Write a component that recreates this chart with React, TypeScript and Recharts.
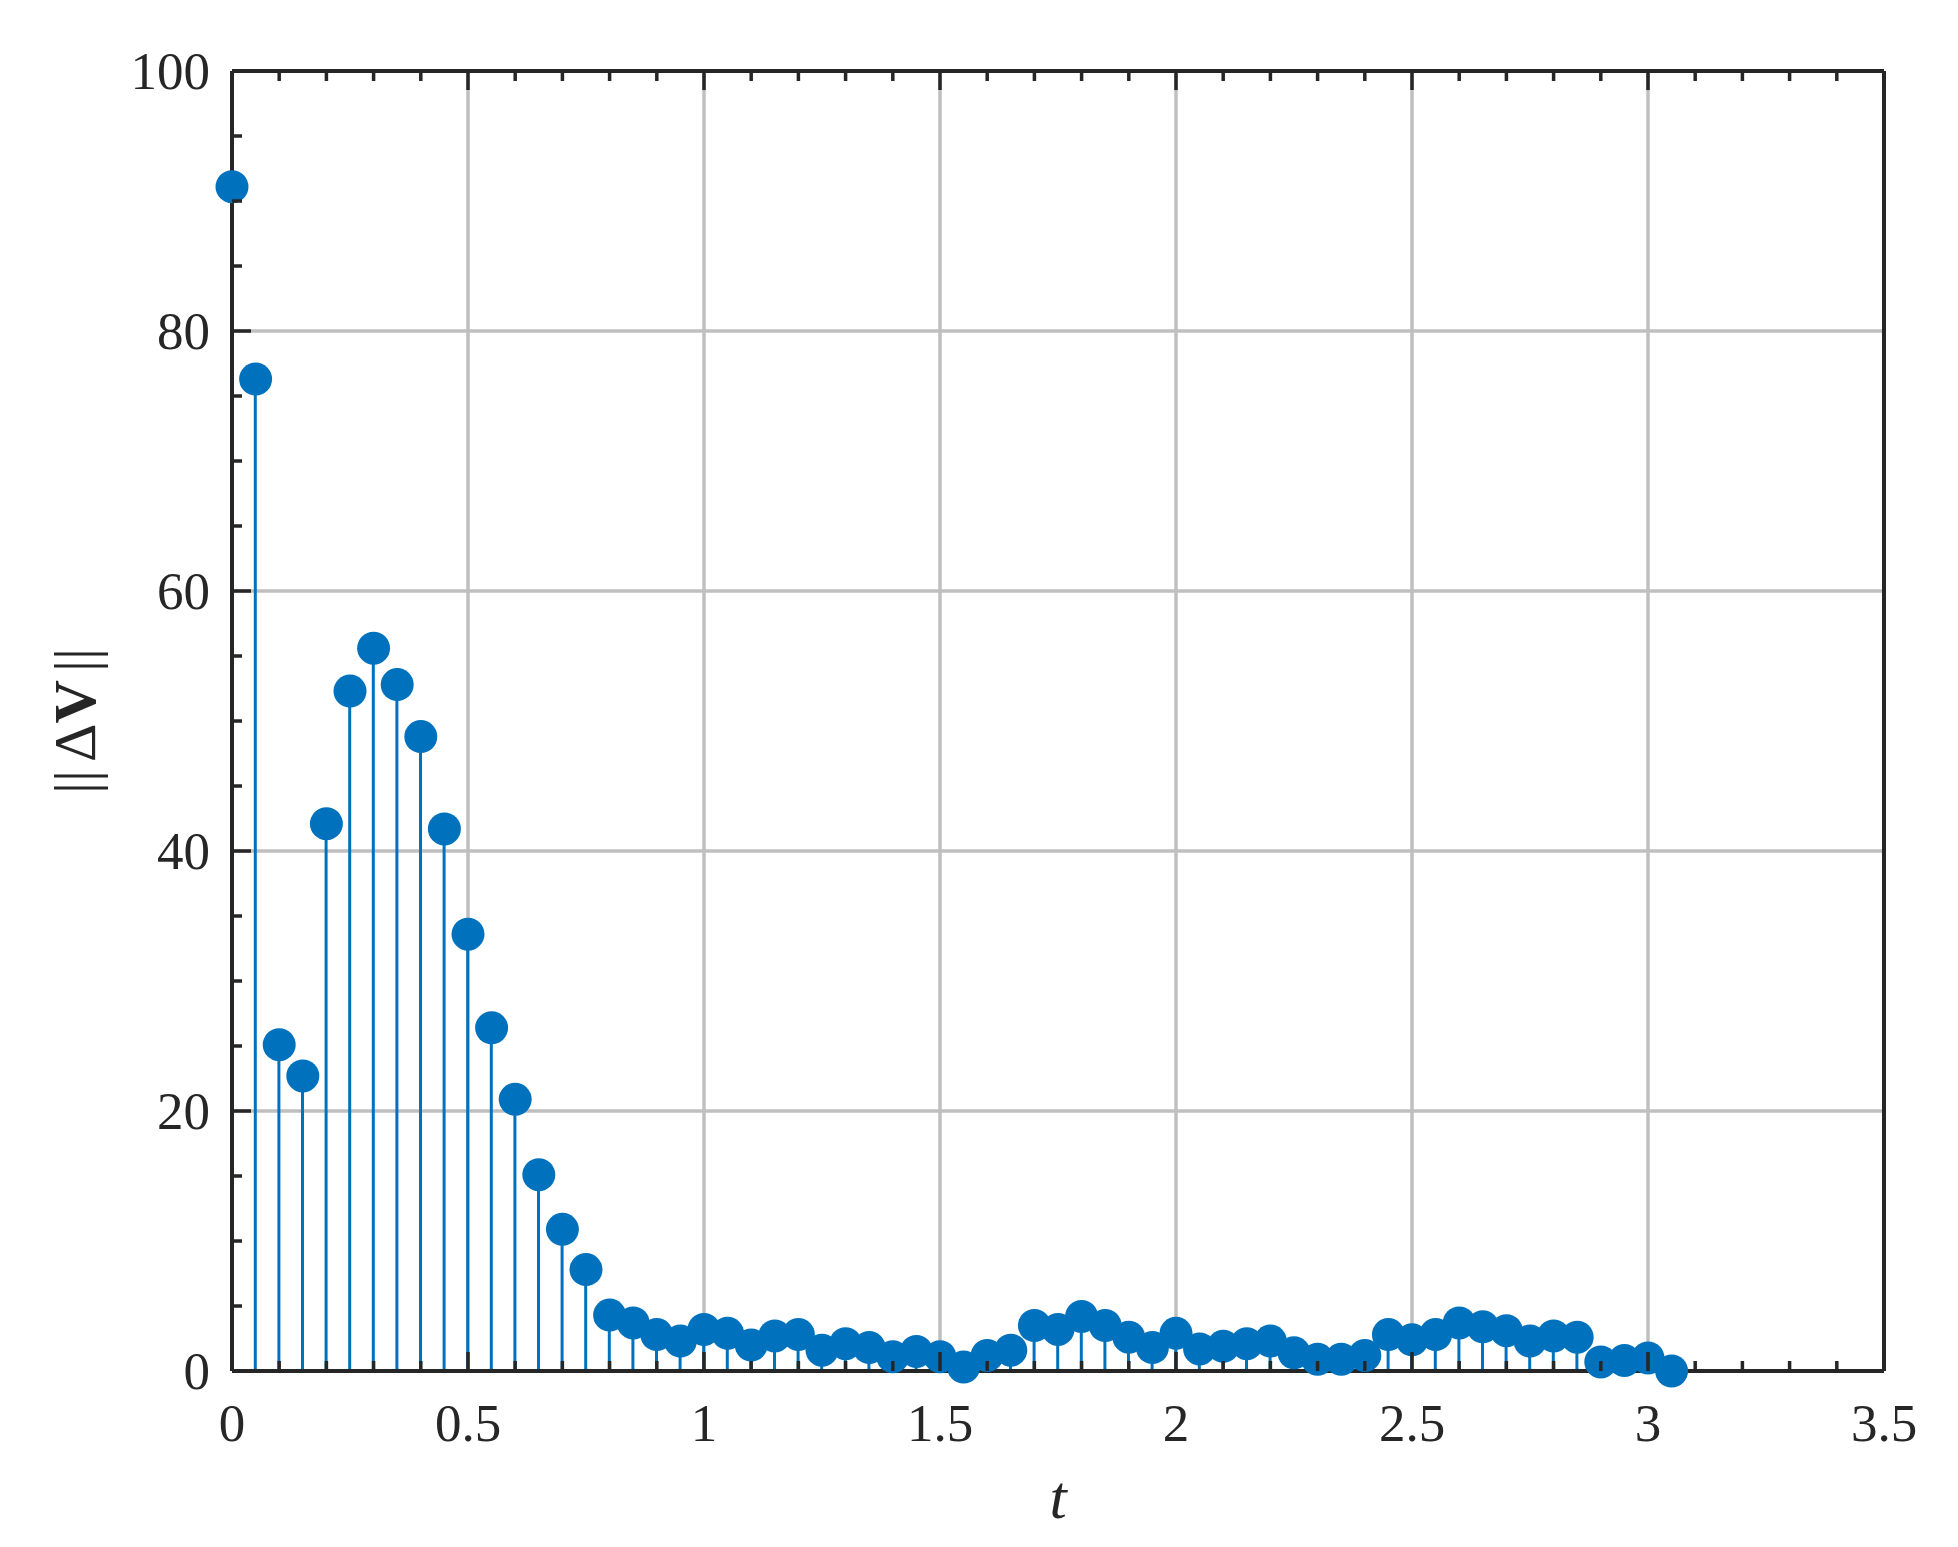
import React from "react";
import {
  ComposedChart,
  Bar,
  Scatter,
  XAxis,
  YAxis,
  CartesianGrid,
} from "recharts";

// sample times
const times = [
  0, 0.05, 0.1, 0.15, 0.2, 0.25, 0.3, 0.35, 0.4, 0.45,
  0.5, 0.55, 0.6, 0.65, 0.7, 0.75, 0.8, 0.85, 0.9, 0.95,
  1, 1.05, 1.1, 1.15, 1.2, 1.25, 1.3, 1.35, 1.4, 1.45,
  1.5, 1.55, 1.6, 1.65, 1.7, 1.75, 1.8, 1.85, 1.9, 1.95,
  2, 2.05, 2.1, 2.15, 2.2, 2.25, 2.3, 2.35, 2.4, 2.45,
  2.5, 2.55, 2.6, 2.65, 2.7, 2.75, 2.8, 2.85, 2.9, 2.95,
  3, 3.05,
];

// ||dV|| at each sample
const deltaV = [
  91.1, 76.3, 25.1, 22.7, 42.1, 52.3, 55.6, 52.8, 48.8, 41.7,
  33.6, 26.4, 20.9, 15.1, 10.9, 7.8, 4.3, 3.7, 2.8, 2.3,
  3.2, 2.9, 2.0, 2.7, 2.8, 1.6, 2.1, 1.8, 1.1, 1.5,
  1.1, 0.3, 1.2, 1.6, 3.5, 3.2, 4.2, 3.5, 2.6, 1.8,
  2.9, 1.7, 1.9, 2.1, 2.3, 1.4, 0.9, 0.9, 1.2, 2.8,
  2.4, 2.8, 3.7, 3.4, 3.1, 2.3, 2.7, 2.6, 0.7, 0.8,
  1.0, 0.0,
];

const xTicks = [
  0, 0.1, 0.2, 0.3, 0.4, 0.5, 0.6, 0.7, 0.8, 0.9, 1, 1.1, 1.2, 1.3, 1.4,
  1.5, 1.6, 1.7, 1.8, 1.9, 2, 2.1, 2.2, 2.3, 2.4, 2.5, 2.6, 2.7, 2.8, 2.9,
  3, 3.1, 3.2, 3.3, 3.4, 3.5,
];
const xMajor = [0, 0.5, 1, 1.5, 2, 2.5, 3, 3.5];
const yTicks = [
  0, 5, 10, 15, 20, 25, 30, 35, 40, 45, 50, 55, 60, 65, 70, 75, 80, 85, 90,
  95, 100,
];
const yMajor = [0, 20, 40, 60, 80, 100];

const data = times.map((t, i) => ({ t, v: deltaV[i] }));

const BLUE = "#0072BD";
const INK = "#262626";
const FONT = "'Liberation Serif', 'Times New Roman', serif";
const MAJOR_LEN = 19;
const MINOR_LEN = 10;

const BottomTick = (props: any) => {
  const { x, y, payload } = props;
  const major = xMajor.includes(payload.value);
  return (
    <g>
      <line
        x1={x}
        y1={y}
        x2={x}
        y2={y - (major ? MAJOR_LEN : MINOR_LEN)}
        stroke={INK}
        strokeWidth={3.5}
      />
      {major && (
        <text
          x={x}
          y={y + 70}
          textAnchor="middle"
          fontFamily={FONT}
          fontSize={53}
          fill={INK}
        >
          {String(payload.value)}
        </text>
      )}
    </g>
  );
};

const TopTick = (props: any) => {
  const { x, y, payload } = props;
  const major = xMajor.includes(payload.value);
  return (
    <line
      x1={x}
      y1={y}
      x2={x}
      y2={y + (major ? MAJOR_LEN : MINOR_LEN)}
      stroke={INK}
      strokeWidth={3.5}
    />
  );
};

const LeftTick = (props: any) => {
  const { x, y, payload } = props;
  const major = yMajor.includes(payload.value);
  return (
    <g>
      <line
        x1={x}
        y1={y}
        x2={x + (major ? MAJOR_LEN : MINOR_LEN)}
        y2={y}
        stroke={INK}
        strokeWidth={3.5}
      />
      {major && (
        <text
          x={x - 22}
          y={y + 18}
          textAnchor="end"
          fontFamily={FONT}
          fontSize={53}
          fill={INK}
        >
          {String(payload.value)}
        </text>
      )}
    </g>
  );
};

const RightTick = (props: any) => {
  const { x, y, payload } = props;
  const major = yMajor.includes(payload.value);
  return (
    <line
      x1={x}
      y1={y}
      x2={x - (major ? MAJOR_LEN : MINOR_LEN)}
      y2={y}
      stroke={INK}
      strokeWidth={3.5}
    />
  );
};

const YTitle = (props: any) => {
  const vb = props.viewBox;
  const cx = vb.x - 57;
  const cy = vb.y + vb.height / 2;
  return (
    <text
      x={cx}
      y={cy}
      transform={`rotate(-90 ${cx} ${cy})`}
      textAnchor="middle"
      dominantBaseline="central"
      fontFamily={FONT}
      fontSize={60}
      fill={INK}
    >
      <tspan>||</tspan>
      <tspan dx={8}>Δ</tspan>
      <tspan fontWeight="bold">V</tspan>
      <tspan dx={8}>||</tspan>
    </text>
  );
};

const XTitle = (props: any) => {
  const vb = props.viewBox;
  return (
    <text
      x={vb.x + vb.width / 2}
      y={vb.y + 147}
      textAnchor="middle"
      fontFamily={FONT}
      fontStyle="italic"
      fontSize={62}
      fill={INK}
    >
      t
    </text>
  );
};

const Dot = (props: any) => (
  <circle cx={props.cx} cy={props.cy} r={16.5} fill={BLUE} />
);

export default function App() {
  return (
    <div
      style={{
        position: "absolute",
        left: 0,
        top: 0,
        width: 1958,
        height: 1547,
        background: "#fff",
      }}
    >
      <ComposedChart
        width={1958}
        height={1547}
        data={data}
        margin={{ top: 70, right: 73, bottom: 66, left: 132 }}
      >
        <CartesianGrid
          xAxisId="bottom"
          yAxisId="left"
          stroke="#bfbfbf"
          strokeWidth={3.5}
          verticalValues={xMajor}
          horizontalValues={yMajor}
        />
        <Bar
          xAxisId="bottom"
          yAxisId="left"
          dataKey="v"
          fill={BLUE}
          barSize={3}
          isAnimationActive={false}
        />
        <XAxis
          xAxisId="bottom"
          dataKey="t"
          type="number"
          domain={[0, 3.5]}
          ticks={xTicks}
          interval={0}
          tickSize={0}
          tickMargin={0}
          tick={<BottomTick />}
          tickLine={false}
          axisLine={{ stroke: INK, strokeWidth: 4 }}
          height={110}
          label={<XTitle />}
        />
        <XAxis
          xAxisId="top"
          orientation="top"
          dataKey="t"
          type="number"
          domain={[0, 3.5]}
          ticks={xTicks}
          interval={0}
          tickSize={0}
          tickMargin={0}
          tick={<TopTick />}
          tickLine={false}
          axisLine={{ stroke: INK, strokeWidth: 4 }}
          height={1}
        />
        <YAxis
          yAxisId="left"
          type="number"
          domain={[0, 100]}
          ticks={yTicks}
          interval={0}
          tickSize={0}
          tickMargin={0}
          tick={<LeftTick />}
          tickLine={false}
          axisLine={{ stroke: INK, strokeWidth: 4 }}
          width={100}
          label={<YTitle />}
        />
        <YAxis
          yAxisId="right"
          orientation="right"
          type="number"
          domain={[0, 100]}
          ticks={yTicks}
          interval={0}
          tickSize={0}
          tickMargin={0}
          tick={<RightTick />}
          tickLine={false}
          axisLine={{ stroke: INK, strokeWidth: 4 }}
          width={1}
        />
        <Scatter
          xAxisId="bottom"
          yAxisId="left"
          dataKey="v"
          fill={BLUE}
          shape={<Dot />}
          isAnimationActive={false}
        />
      </ComposedChart>
    </div>
  );
}
